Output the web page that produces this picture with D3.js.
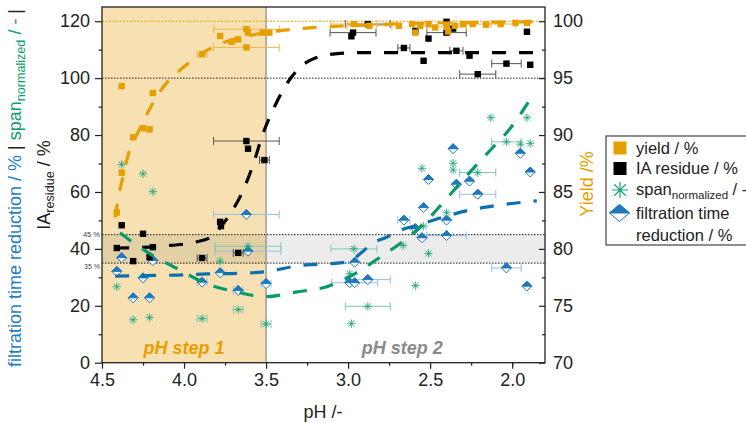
<!DOCTYPE html>
<html><head><meta charset="utf-8">
<script src="https://cdn.jsdelivr.net/npm/d3@7"></script>
<style>
body{margin:0;background:#fff;}
svg{display:block;font-family:"Liberation Sans",Arial,sans-serif;}
</style></head><body>
<svg id="c" width="746" height="423"></svg>
<script>
// ---------- data ----------
const xTicks = [4.5, 4.0, 3.5, 3.0, 2.5, 2.0];
const xMinorTicks = [4.25, 3.75, 3.25, 2.75, 2.25, 2.0];
const yLeftTicks = [0, 20, 40, 60, 80, 100, 120];
const yLeftMinor = [10, 30, 50, 70, 90, 110];
const yRightTicks = [70, 75, 80, 85, 90, 95, 100];
const yRightMinor = [72.5, 77.5, 82.5, 87.5, 92.5, 97.5];
const stepBoundary = [4.5, 3.5];
const bandRange = [35, 45];
const refLabels = ["45 %", "35 %"];

// yield / % (right axis): [pH, yield, xErr]
const yieldPts = [
  [4.41,83.2,0],[4.38,86.7,0],[4.31,89.8,0],[4.38,94.3,0],[4.25,90.6,0],[4.21,90.5,0],
  [4.19,93.7,0],[3.89,97.1,0.03],[3.78,98.7,0],[3.62,99.3,0.2],[3.61,99.0,0],[3.62,97.7,0.2],
  [3.67,98.4,0],[3.71,98.2,0],[3.52,99.0,0],[3.48,99.0,0],
  [2.965,99.75,0.14],[2.87,99.6,0.137],[2.69,99.6,0],[2.61,99.75,0],[2.56,99.6,0],
  [2.51,99.75,0],[2.47,99.45,0],[2.40,99.5,0.12],[2.35,99.6,0],[2.30,99.75,0],
  [2.24,99.75,0.11],[2.16,99.7,0],[2.07,99.75,0.09],[1.98,99.85,0],[1.91,99.85,0],
  [2.59,99.0,0],[2.39,99.1,0]
];
// IA residue / % (left axis)
const iaPts = [
  [4.41,40.3,0],[4.38,48.3,0],[4.31,35.7,0],[4.25,45.3,0],[4.21,37.1,0],[4.19,40.6,0],
  [3.89,36.8,0.03],[3.78,49.5,0],[3.775,48.0,0],[3.67,38.6,0.03],[3.62,77.9,0.2],
  [3.61,75.2,0],[3.51,71.2,0.03],
  [2.98,114.7,0],[2.97,116.0,0.14],[2.88,119.0,0.137],[2.59,116.6,0],[2.51,113.9,0],
  [2.40,119.8,0],[2.40,116.0,0.12],[2.36,117.4,0],[2.66,110.6,0.037],[2.54,106.1,0],
  [2.34,109.6,0.04],[2.26,107.9,0],[2.035,105.1,0.09],[2.21,101.4,0.11],[1.89,104.7,0],
  [1.91,116.3,0]
];
// span normalized / - (left axis)
const spanPts = [
  [4.38,69.7,0],[4.25,66.4,0],[4.19,60.1,0],[4.41,26.7,0],[4.31,15.1,0],[4.21,15.9,0],
  [3.89,15.5,0.03],[3.78,35.7,0],[3.67,18.7,0.03],[3.61,40.9,0.2],[3.50,13.6,0.03],
  [2.035,77.6,0.09],[1.89,77.1,0],[1.95,76.8,0],[2.55,68.3,0],[2.36,70.1,0],[2.36,67.7,0],
  [2.21,66.8,0.11],[2.40,52.7,0],[2.54,48.0,0],[2.665,41.2,0],[2.51,38.4,0],
  [2.965,40.0,0.14],[2.99,31.3,0],[2.59,27.1,0],[2.88,19.8,0.137],[2.98,13.7,0],
  [2.13,86.1,0],[1.91,86.1,0]
];
// filtration time reduction / % (left axis)
const filtPts = [
  [4.38,36.9,0],[4.41,32.1,0],[4.25,29.8,0],[4.19,35.9,0],[4.31,22.8,0],[4.21,22.8,0],
  [3.89,28.3,0.03],[3.78,31.6,0],[3.67,25.4,0.03],[3.62,52.1,0.2],[3.61,39.2,0.2],
  [3.50,27.8,0.03],
  [2.36,75.2,0],[1.95,73.6,0],[1.89,67.0,0],[2.51,64.4,0],[2.34,62.7,0],[2.26,63.8,0],
  [2.21,59.2,0.11],[2.54,54.5,0],[2.66,50.1,0.037],[2.40,50.1,0],[2.59,47.1,0],
  [2.55,43.9,0],[2.40,44.7,0.12],[2.035,33.3,0.09],[1.91,26.9,0],[2.96,35.3,0],
  [2.99,28.1,0],[2.96,28.1,0.14],[2.88,29.2,0.137]
];
// fitted trend lines
const yieldFit = [[4.42,82.75],[4.40,84.5],[4.37,86.5],[4.33,88.75],[4.28,90.25],[4.22,92.0],
  [4.15,93.75],[4.08,95.0],[4.0,96.0],[3.90,97.1],[3.80,97.9],[3.70,98.4],[3.60,98.75],
  [3.50,99.0],[3.30,99.35],[3.00,99.6],[2.60,99.8],[2.20,99.9],[1.85,99.95]];
const iaFit = [[4.42,40.3],[4.30,40.4],[4.13,41],[3.93,42.4],[3.84,44],[3.77,48.2],[3.70,54],
  [3.66,58.1],[3.58,69.4],[3.52,80.3],[3.445,90.4],[3.355,99.6],[3.22,106.6],[3.05,108.7],
  [2.87,109],[1.83,109]];
const spanFit = [[4.39,45.7],[4.31,42.2],[4.195,37.8],[4.03,32.7],[3.866,27.8],[3.69,25],
  [3.506,23.2],[3.32,24.8],[3.12,26.9],[2.957,31.3],[2.81,36.9],[2.66,42.9],[2.52,50],
  [2.39,58.3],[2.26,66.8],[2.128,75],[2.024,81.5],[1.878,93.6]];
const filtFit = [[4.42,30.4],[4.24,30.6],[4.04,30.8],[3.86,31.2],[3.68,31.4],[3.50,32],
  [3.29,34.2],[3.11,34.8],[3.0,35.5],[2.92,38.6],[2.86,41.7],[2.77,44],[2.67,46.8],
  [2.56,48.6],[2.43,51],[2.27,53.5],[2.1,55.2],[1.85,56.9]];

// ---------- drawing ----------
const C = {orange:"#e69f00", black:"#000", green:"#1aa57a", blue:"#1f78bd",
  orangeErr:"#f0b545", blackErr:"#555", greenErr:"#7ccbb0", blueErr:"#94c0e3",
  step:"#f7e1b3", band:"rgba(0,0,0,0.075)"};
const L = 102, R = 545, T = 7, B = 362.7;
const svg = d3.select("#c");
const x = d3.scaleLinear().domain([4.5, 1.8]).range([L, R]);
const yL = d3.scaleLinear().domain([0, 125]).range([B, T]);
const yR = d3.scaleLinear().domain([70, 101.25]).range([B, T]);

// pH step 1 area
svg.append("rect").attr("x", x(stepBoundary[0])).attr("y", T)
  .attr("width", x(stepBoundary[1]) - x(stepBoundary[0])).attr("height", B - T).attr("fill", C.step);
// 35-45 band
svg.append("rect").attr("x", L).attr("y", yL(bandRange[1])).attr("width", R - L)
  .attr("height", yL(bandRange[0]) - yL(bandRange[1])).attr("fill", C.band);
// reference lines
[[100,"#000"],[45,"#000"],[35,"#000"]].forEach(([v,c]) => {
  svg.append("line").attr("x1", L).attr("x2", R).attr("y1", yL(v)).attr("y2", yL(v))
    .attr("stroke", c).attr("stroke-width", 0.9).attr("stroke-dasharray", "1.5,1.5");
});
svg.append("line").attr("x1", L).attr("x2", R).attr("y1", yR(100)).attr("y2", yR(100))
  .attr("stroke", C.orange).attr("stroke-width", 1).attr("stroke-dasharray", "2,1.5");
// vertical separator
svg.append("line").attr("x1", x(3.5)).attr("x2", x(3.5)).attr("y1", T).attr("y2", B)
  .attr("stroke", "#888").attr("stroke-width", 1.2);
// band labels
svg.append("text").attr("x", L - 2).attr("y", yL(45) + 2.5).attr("text-anchor", "end")
  .attr("font-size", 7.5).attr("fill", "#444").text(refLabels[0]);
svg.append("text").attr("x", L - 2).attr("y", yL(35) + 6).attr("text-anchor", "end")
  .attr("font-size", 7).attr("fill", "#444").text(refLabels[1]);

// step texts
svg.append("text").attr("x", x(4.0)).attr("y", 354).attr("text-anchor", "middle")
  .attr("font-size", 18).attr("font-weight", "bold").attr("font-style", "italic")
  .attr("fill", C.orange).text("pH step 1");
svg.append("text").attr("x", x(2.67)).attr("y", 354).attr("text-anchor", "middle")
  .attr("font-size", 18).attr("font-weight", "bold").attr("font-style", "italic")
  .attr("fill", "#8a8a8a").text("pH step 2");

// error bars
function errBars(data, ys, color) {
  const g = svg.append("g").attr("stroke", color).attr("stroke-width", 1).attr("fill", "none");
  data.filter(d => d[2] > 0).forEach(d => {
    const x1 = x(d[0] + d[2]), x2 = x(d[0] - d[2]), yy = ys(d[1]);
    g.append("line").attr("x1", x1).attr("x2", x2).attr("y1", yy).attr("y2", yy);
    g.append("line").attr("x1", x1).attr("x2", x1).attr("y1", yy - 4).attr("y2", yy + 4);
    g.append("line").attr("x1", x2).attr("x2", x2).attr("y1", yy - 4).attr("y2", yy + 4);
  });
}
errBars(filtPts, yL, C.blueErr);
errBars(spanPts, yL, C.greenErr);
errBars(iaPts, yL, C.blackErr);
errBars(yieldPts, yR, C.orangeErr);

// markers
const asteriskPath = s => `M${-s},0H${s}M0,${-s}V${s}M${-s*0.72},${-s*0.72}L${s*0.72},${s*0.72}M${-s*0.72},${s*0.72}L${s*0.72},${-s*0.72}`;
function diamond(g, cx, cy, w, h) {
  g.append("path").attr("d", `M${cx},${cy-h}L${cx+w},${cy}L${cx},${cy+h}L${cx-w},${cy}Z`)
    .attr("fill", "#fff").attr("stroke", C.blue).attr("stroke-width", 1);
  g.append("path").attr("d", `M${cx-w},${cy}L${cx},${cy-h}L${cx+w},${cy}Z`)
    .attr("fill", C.blue).attr("stroke", C.blue).attr("stroke-width", 1);
}
const gF = svg.append("g");
filtPts.forEach(d => diamond(gF, x(d[0]), yL(d[1]), 5, 5));
svg.append("g").selectAll("path").data(spanPts).join("path")
  .attr("d", asteriskPath(4.2)).attr("transform", d => `translate(${x(d[0])},${yL(d[1])})`)
  .attr("stroke", C.green).attr("stroke-width", 1).attr("fill", "none").attr("opacity", 0.85);
svg.append("g").selectAll("rect").data(iaPts).join("rect")
  .attr("x", d => x(d[0]) - 3.2).attr("y", d => yL(d[1]) - 3.2).attr("width", 6.4).attr("height", 6.4)
  .attr("fill", C.black);
svg.append("g").selectAll("rect").data(yieldPts).join("rect")
  .attr("x", d => x(d[0]) - 3.2).attr("y", d => yR(d[1]) - 3.2).attr("width", 6.4).attr("height", 6.4)
  .attr("fill", C.orange);

// fits
function fit(data, ys, color) {
  svg.append("path").datum(data)
    .attr("d", d3.line().x(d => x(d[0])).y(d => ys(d[1])).curve(d3.curveMonotoneX))
    .attr("fill", "none").attr("stroke", color).attr("stroke-width", 3.2)
    .attr("stroke-dasharray", "14,13");
}
fit(yieldFit, yR, C.orange);
fit(iaFit, yL, C.black);
fit(spanFit, yL, "#0a9a6a");
fit(filtFit, yL, "#0b6fb0");

// axes
const fs = 18;
svg.append("g").attr("transform", `translate(0,${B})`)
  .call(d3.axisBottom(x).tickValues(xTicks).tickFormat(d3.format(".1f")).tickSize(6).tickPadding(5));
svg.append("g").attr("transform", `translate(0,${B})`)
  .call(d3.axisBottom(x).tickValues(xMinorTicks).tickFormat("").tickSize(3));
svg.append("g").attr("transform", `translate(${L},0)`)
  .call(d3.axisLeft(yL).tickValues(yLeftTicks).tickSize(7).tickPadding(5));
svg.append("g").attr("transform", `translate(${L},0)`)
  .call(d3.axisLeft(yL).tickValues(yLeftMinor).tickFormat("").tickSize(3.5));
svg.append("g").attr("transform", `translate(${R},0)`)
  .call(d3.axisRight(yR).tickValues(yRightTicks).tickSizeInner(-6).tickSizeOuter(0).tickPadding(8));
svg.append("g").attr("transform", `translate(${R},0)`)
  .call(d3.axisRight(yR).tickValues(yRightMinor).tickFormat("").tickSizeInner(-3).tickSizeOuter(0));
svg.selectAll(".domain").remove();
svg.selectAll(".tick line").attr("stroke", "#222").attr("stroke-width", 1.2);
svg.selectAll(".tick text").attr("font-size", fs).attr("fill", "#222")
  .attr("font-family", "'Liberation Sans',Arial,sans-serif");
// frame
svg.append("rect").attr("x", L).attr("y", T).attr("width", R - L).attr("height", B - T)
  .attr("fill", "none").attr("stroke", "#222").attr("stroke-width", 1.3);

// axis titles
svg.append("text").attr("x", 323).attr("y", 418).attr("text-anchor", "middle")
  .attr("font-size", 18).attr("fill", "#222").text("pH /-");
svg.append("text").attr("transform", "translate(593,184) rotate(-90)").attr("text-anchor", "middle")
  .attr("font-size", 18).attr("fill", C.orange).text("Yield /%");
const tIA = svg.append("text").attr("transform", "translate(50,185) rotate(-90)")
  .attr("text-anchor", "middle").attr("font-size", 18).attr("fill", "#222");
tIA.append("tspan").text("IA");
tIA.append("tspan").attr("font-size", 12.6).attr("dy", 4).text("residue");
tIA.append("tspan").attr("dy", -4).text(" / %");
const tO = svg.append("text").attr("transform", "translate(21,188) rotate(-90)")
  .attr("text-anchor", "middle").attr("font-size", 18);
tO.append("tspan").attr("fill", "#1f7fc2").text("filtration time reduction / %");
tO.append("tspan").attr("fill", "#222").text(" | ");
tO.append("tspan").attr("fill", "#0e9e70").text("span");
tO.append("tspan").attr("fill", "#0e9e70").attr("font-size", 12.6).attr("dy", 4).text("normalized");
tO.append("tspan").attr("fill", "#0e9e70").attr("dy", -4).text(" / - ");
tO.append("tspan").attr("fill", "#222").text("|");

// legend
const lg = svg.append("g");
lg.append("rect").attr("x", 606).attr("y", 136).attr("width", 170).attr("height", 109)
  .attr("fill", "#fff").attr("stroke", "#444").attr("stroke-width", 1.2);
lg.append("rect").attr("x", 613.5).attr("y", 141.5).attr("width", 13).attr("height", 13).attr("fill", C.orange);
lg.append("rect").attr("x", 613.5).attr("y", 162).attr("width", 13).attr("height", 13).attr("fill", C.black);
lg.append("path").attr("d", asteriskPath(8)).attr("transform", "translate(620,190)")
  .attr("stroke", C.green).attr("stroke-width", 1.2).attr("fill", "none");
diamond(lg, 619.5, 213, 10, 8.5);
const lt = (y, parts) => {
  const t = lg.append("text").attr("x", 636).attr("y", y).attr("font-size", 16.5).attr("fill", "#222");
  parts(t);
};
lt(154, t => t.text("yield / %"));
lt(174, t => t.text("IA residue / %"));
lt(195, t => { t.append("tspan").text("span");
  t.append("tspan").attr("font-size", 11.5).attr("dy", 4).text("normalized");
  t.append("tspan").attr("dy", -4).text(" / -"); });
lt(219, t => t.text("filtration time"));
lt(241, t => t.text("reduction / %"));
</script>
</body></html>
